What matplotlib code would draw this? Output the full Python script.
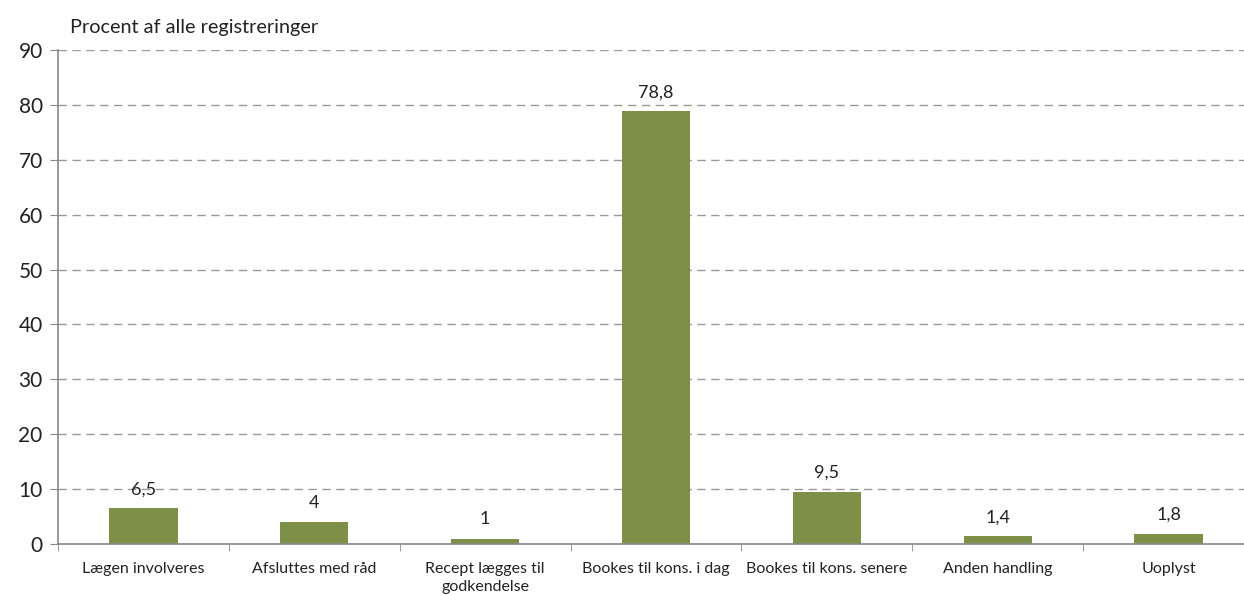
import numpy as np
import matplotlib.pyplot as plt

# categories and values
categories = ['Lægen involveres', 'Afsluttes med råd', 'Recept lægges til\ngodkendelse',
              'Bookes til kons. i dag', 'Bookes til kons. senere', 'Anden handling', 'Uoplyst']
values = [6.5, 4, 1, 78.8, 9.5, 1.4, 1.8]
value_labels = ['6,5', '4', '1', '78,8', '9,5', '1,4', '1,8']

plt.rcParams['font.family'] = ['Lato', 'DejaVu Sans']

fig = plt.figure(figsize=(12.44, 5.95), dpi=100)
ax = fig.add_axes([58 / 1244, 51 / 595, 1196 / 1244, 494 / 595])

x = np.arange(len(categories))
ax.bar(x, values, width=0.4, color='#7E8F48', zorder=3)

for xi, v, lab in zip(x, values, value_labels):
    ax.annotate(lab, (xi, v), xytext=(0, 8), textcoords='offset points',
                ha='center', va='bottom', fontsize=13, color='#222222', zorder=4)

ax.set_xlim(-0.5, len(categories) - 0.5)
ax.set_ylim(0, 90)
ax.set_yticks(range(0, 91, 10))
ax.tick_params(axis='y', labelsize=15, length=6, pad=5, colors='#888888', labelcolor='#222222')

# category labels centred, ticks at the boundaries
ax.set_xticks(x)
ax.set_xticklabels(categories, fontsize=11.5, color='#222222', linespacing=1.4)
ax.tick_params(axis='x', which='major', length=0, pad=13)
ax.set_xticks(np.arange(-0.5, len(categories)), minor=True)
ax.tick_params(axis='x', which='minor', length=5, color='#888888')

ax.yaxis.grid(True, linestyle=(0, (6, 4)), color='#999999', linewidth=1, zorder=0)

for s in ['top', 'right']:
    ax.spines[s].set_visible(False)
for s in ['left', 'bottom']:
    ax.spines[s].set_color('#888888')
    ax.spines[s].set_linewidth(1.2)
ax.spines['bottom'].set_zorder(5)

fig.text(70 / 1244, 1 - 27 / 595, 'Procent af alle registreringer', fontsize=14.3,
         va='center', ha='left', color='#222222')

fig.savefig('out.png', dpi=100)
